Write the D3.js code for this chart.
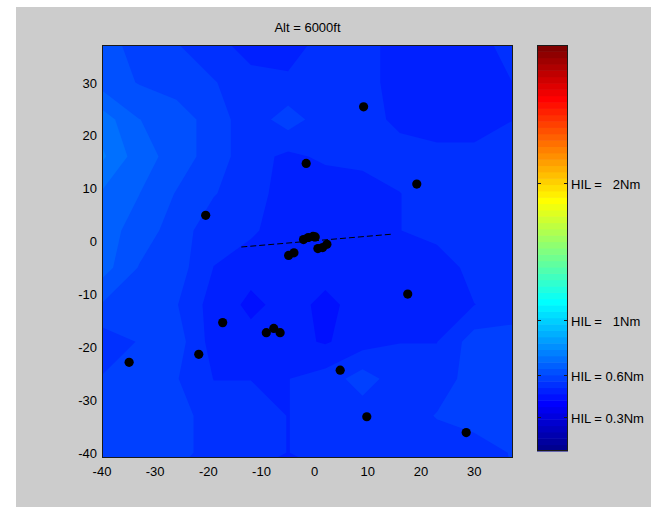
<!DOCTYPE html>
<meta charset="utf-8">
<style>
    body {
        margin: 0;
        background: #fff;
    }

    text {
        font-family: "Liberation Sans", Arial, sans-serif;
        font-size: 13px;
        fill: #000;
        white-space: pre;
    }
</style>

<body>
    <script src="https://d3js.org/d3.v7.min.js"></script>
    <script>
        // HIL field (Nm), sampled on a regular grid, rows top (y=37) to bottom (y=-40)
        var gridX = [-40, -33, -26, -19, -12, -5, 2, 9, 16, 23, 30, 37];
        var gridY = [37, 30, 23, 16, 9, 2, -5, -12, -19, -26, -33, -40];
        var hil = [
            [0.63, 0.58, 0.56, 0.53, 0.49, 0.49, 0.53, 0.53, 0.49, 0.49, 0.49, 0.53],
            [0.63, 0.60, 0.58, 0.56, 0.53, 0.52, 0.53, 0.53, 0.49, 0.48, 0.48, 0.51],
            [0.72, 0.65, 0.63, 0.58, 0.53, 0.58, 0.53, 0.53, 0.50, 0.48, 0.48, 0.51],
            [0.75, 0.67, 0.63, 0.58, 0.53, 0.50, 0.52, 0.53, 0.53, 0.53, 0.53, 0.53],
            [0.69, 0.65, 0.60, 0.56, 0.53, 0.49, 0.48, 0.48, 0.51, 0.53, 0.53, 0.53],
            [0.67, 0.63, 0.58, 0.53, 0.52, 0.48, 0.48, 0.48, 0.51, 0.53, 0.53, 0.53],
            [0.67, 0.60, 0.58, 0.51, 0.48, 0.48, 0.48, 0.48, 0.49, 0.48, 0.53, 0.53],
            [0.60, 0.56, 0.56, 0.49, 0.455, 0.48, 0.455, 0.48, 0.49, 0.48, 0.51, 0.53],
            [0.53, 0.56, 0.58, 0.49, 0.48, 0.48, 0.46, 0.49, 0.51, 0.51, 0.58, 0.58],
            [0.56, 0.56, 0.56, 0.51, 0.51, 0.51, 0.53, 0.58, 0.53, 0.53, 0.58, 0.58],
            [0.58, 0.60, 0.58, 0.53, 0.53, 0.51, 0.53, 0.53, 0.53, 0.56, 0.58, 0.56],
            [0.58, 0.60, 0.58, 0.53, 0.53, 0.51, 0.53, 0.53, 0.53, 0.53, 0.53, 0.56]
        ];

        // aircraft / sensor positions
        var pointX = [9.2, -1.6, 19.2, -20.5, -2.1, -1.2, -0.3, 0.1, 0.6, 1.5, 2.3, -4.9, -3.9,
            17.5, -17.3, -9.1, -7.7, -6.5, -21.8, -34.9, 4.8, 9.8, 28.5];
        var pointY = [25.4, 14.7, 10.8, 4.9, 0.3, 0.7, 0.9, 0.8, -1.4, -1.2, -0.6, -2.7, -2.2,
            -10.0, -15.4, -17.3, -16.5, -17.3, -21.4, -22.9, -24.4, -33.2, -36.2];

        // runway (dashed)
        var runwayX = [-13.8, 14.8];
        var runwayY = [-1.1, 1.35];

        var xTicks = [-40, -30, -20, -10, 0, 10, 20, 30];
        var yTicks = [30, 20, 10, 0, -10, -20, -30, -40];

        var cbMin = 0.05, cbMax = 3.0, nColors = 64;
        var cbTicks = [0.3, 0.6, 1, 2];
        var cbLabels = ["HIL = 0.3Nm", "HIL = 0.6Nm", "HIL =   1Nm", "HIL =   2Nm"];

        // MATLAB jet(64), i is 1-based
        function jet(i) {
            var r = 0, g = 0, b = 0;
            if (i <= 8) b = (i + 8) / 16;
            else if (i <= 23) b = 1;
            else if (i <= 39) b = (40 - i) / 16;
            if (i >= 9 && i <= 24) g = (i - 8) / 16;
            else if (i >= 25 && i <= 39) g = 1;
            else if (i >= 40 && i <= 55) g = (56 - i) / 16;
            if (i >= 25 && i <= 40) r = (i - 24) / 16;
            else if (i >= 41 && i <= 55) r = 1;
            else if (i >= 56) r = (72 - i) / 16;
            return d3.rgb(r * 255, g * 255, b * 255).toString();
        }

        var svg = d3.select("body").append("svg")
            .attr("width", 657)
            .attr("height", 507);

        var fig = svg.append("g");
        fig.append("rect")
            .attr("x", 16).attr("y", 7)
            .attr("width", 635).attr("height", 500)
            .attr("fill", "#cccccc");

        var x = d3.scaleLinear().domain([-40, 37.3]).range([102, 513]);
        var y = d3.scaleLinear().domain([-41, 37.1]).range([458, 45]);

        fig.append("clipPath").attr("id", "plotclip")
            .append("rect")
            .attr("x", 102).attr("y", 45)
            .attr("width", 411).attr("height", 413);

        // filled contours
        var nx = gridX.length, ny = gridY.length;
        var dx = gridX[1] - gridX[0], dy = gridY[1] - gridY[0];
        var step = (cbMax - cbMin) / nColors;
        var thresholds = d3.range(1, nColors).map(function (j) { return cbMin + j * step; });

        var contours = d3.contours()
            .size([nx, ny])
            .thresholds(thresholds)(hil.flat());

        var proj = d3.geoTransform({
            point: function (u, v) {
                this.stream.point(x(gridX[0] + (u - 0.5) * dx), y(gridY[0] + (v - 0.5) * dy));
            }
        });
        var path = d3.geoPath(proj);

        var plot = fig.append("g").attr("clip-path", "url(#plotclip)");
        plot.append("rect")
            .attr("x", 102).attr("y", 45)
            .attr("width", 411).attr("height", 413)
            .attr("fill", jet(1));

        plot.selectAll("path.level")
            .data(contours)
            .enter().append("path")
            .attr("class", "level")
            .attr("d", path)
            .attr("fill", function (d, k) { return jet(k + 2); })
            .attr("stroke", "none");

        // runway
        plot.append("line")
            .attr("x1", x(runwayX[0])).attr("y1", y(runwayY[0]))
            .attr("x2", x(runwayX[1])).attr("y2", y(runwayY[1]))
            .attr("stroke", "#000")
            .attr("stroke-width", 1)
            .attr("stroke-dasharray", "6,3");

        plot.selectAll("circle")
            .data(pointX)
            .enter().append("circle")
            .attr("cx", function (d) { return x(d); })
            .attr("cy", function (d, i) { return y(pointY[i]); })
            .attr("r", 4.6)
            .attr("fill", "#000");

        fig.append("rect")
            .attr("x", 102.5).attr("y", 45.5)
            .attr("width", 410).attr("height", 412)
            .attr("fill", "none")
            .attr("stroke", "#1a1a1a");

        // tick labels
        fig.selectAll("text.xt")
            .data(xTicks)
            .enter().append("text")
            .attr("class", "xt")
            .attr("x", function (d) { return x(d); })
            .attr("y", 476)
            .attr("text-anchor", "middle")
            .text(function (d) { return d; });

        fig.selectAll("text.yt")
            .data(yTicks)
            .enter().append("text")
            .attr("class", "yt")
            .attr("x", 97)
            .attr("y", function (d) { return y(d) + 5; })
            .attr("text-anchor", "end")
            .text(function (d) { return d; });

        fig.append("text")
            .attr("x", 307.5)
            .attr("y", 32)
            .attr("text-anchor", "middle")
            .text("Alt = 6000ft");

        // colorbar
        var cy = d3.scaleLinear().domain([cbMin, cbMax]).range([451, 45]);
        var cb = fig.append("g");
        cb.selectAll("rect.band")
            .data(d3.range(nColors))
            .enter().append("rect")
            .attr("class", "band")
            .attr("x", 537)
            .attr("y", function (k) { return cy(cbMin + (k + 1) * step); })
            .attr("width", 31)
            .attr("height", function (k) { return cy(cbMin + k * step) - cy(cbMin + (k + 1) * step) + 0.5; })
            .attr("fill", function (k) { return jet(k + 1); });

        cb.append("rect")
            .attr("x", 537.5).attr("y", 45.5)
            .attr("width", 30).attr("height", 405)
            .attr("fill", "none")
            .attr("stroke", "#1a1a1a");

        cbTicks.forEach(function (v, i) {
            var ty = Math.round(cy(v)) + 0.5;
            cb.append("line")
                .attr("x1", 537).attr("x2", 541)
                .attr("y1", ty).attr("y2", ty)
                .attr("stroke", "#1a1a1a");
            cb.append("line")
                .attr("x1", 564).attr("x2", 568)
                .attr("y1", ty).attr("y2", ty)
                .attr("stroke", "#1a1a1a");
            cb.append("text")
                .attr("x", 571)
                .attr("y", ty + 5)
                .text(cbLabels[i]);
        });
    </script>
</body>
